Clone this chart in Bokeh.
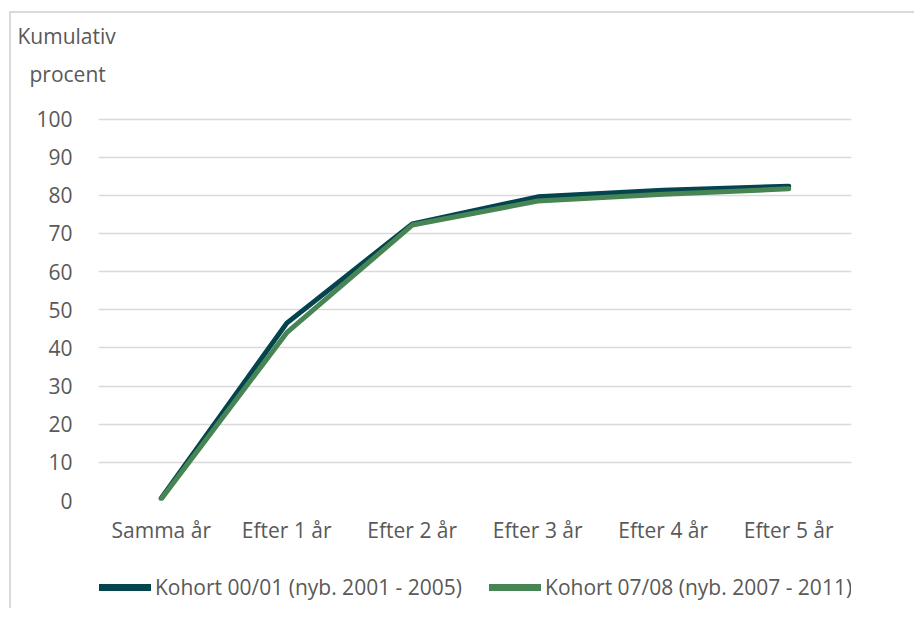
from bokeh.plotting import figure
from bokeh.layouts import column
from bokeh.models import FixedTicker, Legend, LegendItem, Title, Range1d
from bokeh.embed import file_html
from bokeh.resources import INLINE

categories = ["Samma år", "Efter 1 år", "Efter 2 år", "Efter 3 år", "Efter 4 år", "Efter 5 år"]
kohort_0001 = [0.6, 46.5, 72.5, 79.6, 81.3, 82.4]
kohort_0708 = [0.4, 44.0, 72.2, 78.5, 80.3, 81.7]
y_ticks = list(range(0, 101, 10))
series_names = ["Kohort 00/01 (nyb. 2001 - 2005)", "Kohort 07/08 (nyb. 2007 - 2011)"]
y_title = ["Kumulativ", "procent"]

FONT = "Open Sans"
TXT = "#595959"
DARK = "#03444F"
GREEN = "#478555"
BORDER = "2px solid #d9d9d9"

p = figure(x_range=categories, y_range=Range1d(0, 100.4),
           width=905, height=537, output_backend="svg", toolbar_location=None,
           min_border_left=87, min_border_right=65, min_border_top=104,
           min_border_bottom=50,
           styles={"border-top": BORDER, "border-left": BORDER,
                   "margin-left": "9px", "margin-top": "11px"})
p.outline_line_color = None
p.background_fill_color = "white"
p.border_fill_color = "white"

r1 = p.line(categories, kohort_0001, line_color=DARK, line_width=5, line_join="round", line_cap="round")
r2 = p.line(categories, kohort_0708, line_color=GREEN, line_width=5, line_join="round", line_cap="round")

p.xgrid.grid_line_color = None
p.ygrid.grid_line_color = "#d9d9d9"
p.ygrid.grid_line_width = 1.5
p.yaxis.ticker = FixedTicker(ticks=y_ticks)
p.yaxis.axis_line_color = None
p.yaxis.major_tick_line_color = None
p.yaxis.minor_tick_line_color = None
p.yaxis.major_label_standoff = 20
p.xaxis.axis_line_color = None
p.xaxis.major_tick_line_color = None
p.xaxis.minor_tick_line_color = None
p.xaxis.major_label_standoff = 9
for ax in (p.xaxis, p.yaxis):
    ax.major_label_text_font = FONT
    ax.major_label_text_font_size = "21px"
    ax.major_label_text_color = TXT

# two-line axis title above the plot (first added sits closest to the frame)
p.add_layout(Title(text=" ", text_font=FONT, text_font_size="2px", text_color=TXT,
                   align="left", standoff=21), "above")
p.add_layout(Title(text=y_title[1], text_font=FONT, text_font_size="21px", text_color=TXT,
                   text_font_style="normal", align="left", offset=-69, standoff=7), "above")
p.add_layout(Title(text=y_title[0], text_font=FONT, text_font_size="21px", text_color=TXT,
                   text_font_style="normal", align="left", offset=-81, standoff=9), "above")

# legend strip below the chart
q = figure(x_range=Range1d(0, 1), y_range=Range1d(0, 1), width=905, height=60,
           output_backend="svg", toolbar_location=None,
           min_border_left=0, min_border_right=0, min_border_top=0, min_border_bottom=0,
           styles={"border-left": BORDER, "margin-left": "9px"})
q.axis.visible = False
q.grid.grid_line_color = None
q.outline_line_color = None
# legend sample lines (kept outside the visible range of the strip)
k1 = q.line([0, 1], [-5, -5], line_color=DARK, line_width=7, line_cap="round")
k2 = q.line([0, 1], [-5, -5], line_color=GREEN, line_width=7, line_cap="round")
legend = Legend(items=[LegendItem(label=series_names[0], renderers=[k1]),
                       LegendItem(label=series_names[1], renderers=[k2])],
                orientation="horizontal", location=(1, 7),
                glyph_width=52, glyph_height=20, label_standoff=4, spacing=27,
                label_text_font=FONT, label_text_font_size="21px", label_text_color=TXT,
                border_line_color=None, background_fill_alpha=0, padding=0, margin=0)
q.add_layout(legend, "center")

layout = column(p, q, spacing=0)
out = file_html(layout, INLINE)
open("out.html", "w").write(out)
